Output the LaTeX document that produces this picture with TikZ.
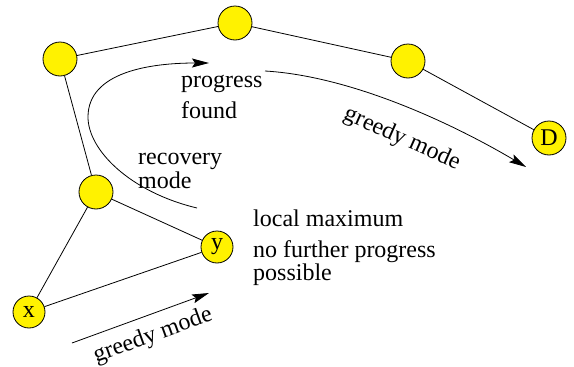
\documentclass[tikz,border=0pt]{standalone}
\usepackage{fontspec}
\newfontfamily\timesf{LiberationSerif}[Extension=.ttf,UprightFont=*-Regular]
\usetikzlibrary{arrows.meta}
\begin{document}
\begin{tikzpicture}[x=1pt,y=-1pt,
  vtx/.style={circle,draw=black,fill=yellow,line width=0.8pt,minimum size=34pt,inner sep=0pt,font=\timesf\fontsize{24}{26}\selectfont},
  edge/.style={line width=0.8pt},
  lbl/.style={font=\timesf\fontsize{24}{26}\selectfont,inner sep=0pt,anchor=base west},
  rlbl/.style={font=\timesf\fontsize{24}{26}\selectfont,inner sep=0pt},
  flow/.style={line width=0.8pt,-{Stealth[length=17pt,width=9pt,inset=3pt]}}]
\useasboundingbox (0,0) rectangle (574,367);
\node[vtx] (a) at (60,59) {};
\node[vtx] (b) at (235,23) {};
\node[vtx] (c) at (408,61) {};
\node[vtx] (d) at (549,138) {D};
\node[vtx] (e) at (96,192) {};
\node[vtx,minimum size=32pt] (y) at (217,247) {y};
\node[vtx,minimum size=32pt] (x) at (29,312) {x};
\draw[edge] (a) -- (b);
\draw[edge] (b) -- (c);
\draw[edge] (c) -- (d);
\draw[edge] (a) -- (e);
\draw[edge] (e) -- (x);
\draw[edge] (e) -- (y);
\draw[edge] (x) -- (y);
\coordinate (r0) at (197,208);
\coordinate (r1) at (88,117);
\coordinate (r2) at (209,63);
\draw[flow] (r0) .. controls (130,192) and (88,150) .. (r1) .. controls (88,72) and (150,63) .. (r2);
\coordinate (g0) at (265,71);
\coordinate (g1) at (526,167);
\draw[flow] (g0) .. controls (350,76) and (450,122) .. (g1);
\coordinate (h0) at (72,343);
\coordinate (h1) at (209,293);
\draw[flow] (h0) -- (h1);
\node[lbl] (t1) at (181,87) {progress};
\node[lbl] (t2) at (181,118) {found};
\node[lbl] (t3) at (138,164) {recovery};
\node[lbl] (t4) at (138,188) {mode};
\node[lbl] (t5) at (253,226) {local maximum};
\node[lbl] (t6) at (253,257) {no further progress};
\node[lbl] (t7) at (253,280) {possible};
\node[rlbl,rotate=-24] (g2) at (402,139) {greedy mode};
\node[rlbl,rotate=20] (g3) at (153,336) {greedy mode};
\end{tikzpicture}
\end{document}
